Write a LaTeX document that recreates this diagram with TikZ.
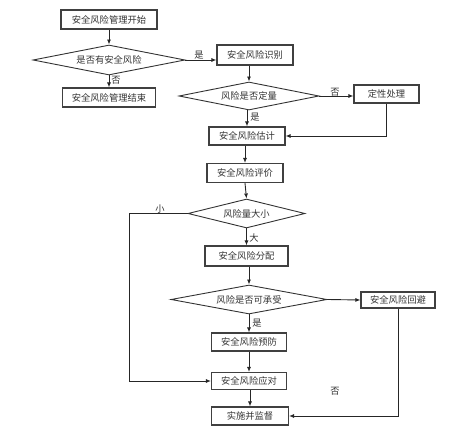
\documentclass[tikz,border=0pt]{standalone}
\usepackage{fontspec}
\newfontfamily\cjk{Noto Sans CJK SC}
\usetikzlibrary{shapes.geometric,arrows.meta}
\begin{document}
\begin{tikzpicture}[x=1pt,y=-1pt,
  every node/.style={font=\cjk\fontsize{9.3}{10}\selectfont, text=black!80},
  box/.style={draw=black!75, line width=1.1pt, rectangle, inner sep=0pt},
  dia/.style={draw=black!80, line width=0.9pt, diamond, aspect=5, inner sep=0pt},
  lbl/.style={inner sep=0pt},
  arr/.style={draw=black!85, line width=0.9pt, -{Latex[length=5pt,width=4pt]}},
  ln/.style={draw=black!85, line width=0.9pt}]
\useasboundingbox (0,0) rectangle (469,430);
\node[box, minimum width=96pt, minimum height=19pt] (start) at (109,19.5) {安全风险管理开始};
\node[dia, minimum width=152pt, minimum height=30pt] (d1) at (109,60) {是否有安全风险};
\node[box, minimum width=93pt, minimum height=19pt] (end) at (109,97.5) {安全风险管理结束};
\node[box, minimum width=76pt, minimum height=20pt] (ident) at (255,55) {安全风险识别};
\node[dia, minimum width=140pt, minimum height=28pt] (d2) at (249,96) {风险是否定量};
\node[box, minimum width=65pt, minimum height=18pt] (qual) at (386.5,94) {定性处理};
\node[box, minimum width=76pt, minimum height=18pt] (est) at (247,136) {安全风险估计};
\node[box, minimum width=76pt, minimum height=19pt] (eval) at (245,173) {安全风险评价};
\node[dia, minimum width=117pt, minimum height=29pt] (d3) at (246.5,213.5) {风险量大小};
\node[box, minimum width=83pt, minimum height=20pt] (alloc) at (246.5,256) {安全风险分配};
\node[dia, minimum width=156pt, minimum height=29pt] (d4) at (249,299.5) {风险是否可承受};
\node[box, minimum width=74pt, minimum height=16pt] (avoid) at (398,300) {安全风险回避};
\node[box, minimum width=75pt, minimum height=18pt] (prev) at (249,342) {安全风险预防};
\node[box, minimum width=75pt, minimum height=17pt] (resp) at (249,381) {安全风险应对};
\node[box, minimum width=77pt, minimum height=18pt] (impl) at (250,416) {实施并监督};
\coordinate (lc) at (129,213.5);
% arrows
\draw[arr] (start) -- (d1);
\draw[arr] (d1) -- (end);
\draw[arr] (d1.east) -- (d1.east -| ident.west);
\draw[arr] (d2.north |- ident.south) -- (d2.north);
\draw[arr] (d2.east) -- (d2.east -| qual.west);
\draw[arr] (est.north |- d2.south) -- (est.north);
\draw[arr] (qual.south) |- (est.east);
\draw[arr] (est.south -| eval.north) -- (eval.north);
\draw[arr] (eval.south) -- (d3.north);
\draw[ln] (d3.west) -- (lc);
\draw[arr] (lc) |- (resp.west);
\draw[arr] (d3.south) -- (alloc.north);
\draw[arr] (alloc.south -| d4.north) -- (d4.north);
\draw[arr] (d4.east) -- (avoid.west);
\draw[arr] (d4.south) -- (prev.north);
\draw[arr] (prev) -- (resp);
\draw[arr] (resp.south -| impl.north) -- (impl.north);
\draw[arr] (avoid.south) |- (impl.east);
% labels
\node[lbl] (l1) at (199,55) {是};
\node[lbl] (l2) at (116,80) {否};
\node[lbl] (l3) at (335,92) {否};
\node[lbl] (l4) at (255,117) {是};
\node[lbl] (l5) at (160,209) {小};
\node[lbl] (l6) at (254,238) {大};
\node[lbl] (l7) at (257,323) {是};
\node[lbl] (l8) at (335,391) {否};
\end{tikzpicture}
\end{document}
